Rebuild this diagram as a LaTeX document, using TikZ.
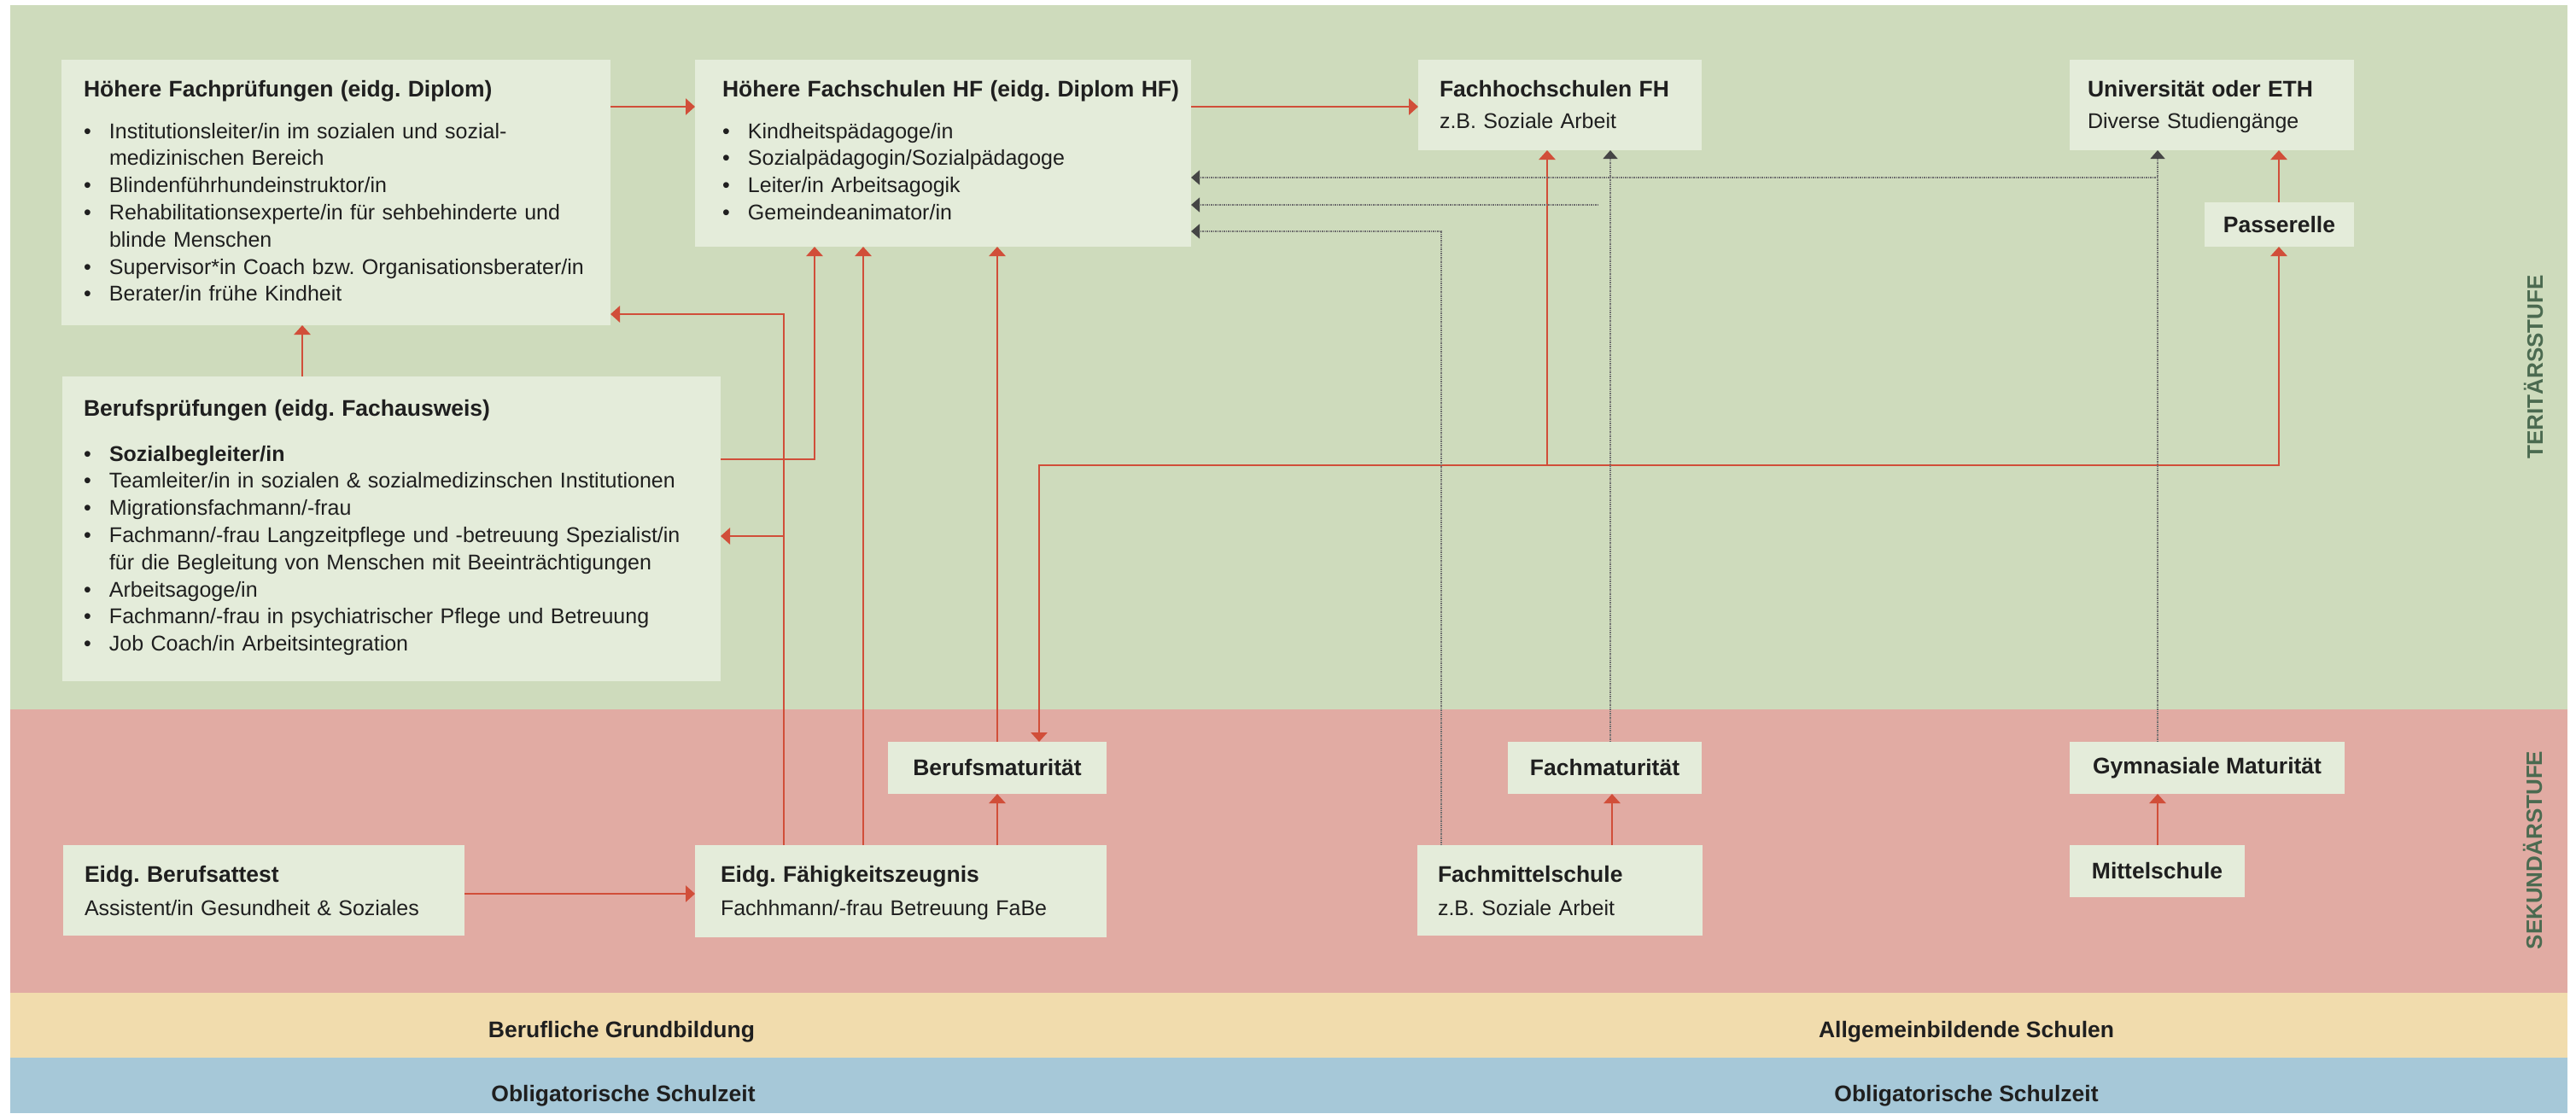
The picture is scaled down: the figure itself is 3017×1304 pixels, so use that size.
\documentclass[tikz,border=0pt]{standalone}
\usepackage{fontspec}
\setmainfont{Liberation Sans}
\usetikzlibrary{arrows.meta}
\frenchspacing
\definecolor{bggreen}{HTML}{CEDBBC}
\definecolor{boxfill}{HTML}{E4ECDA}
\definecolor{bgred}{HTML}{E1ABA3}
\definecolor{bgyellow}{HTML}{F1DCAD}
\definecolor{bgblue}{HTML}{A6C8D8}
\definecolor{arrred}{HTML}{D14E39}
\definecolor{dotgray}{HTML}{6E6E6E}
\definecolor{headgray}{HTML}{454545}
\definecolor{txt}{HTML}{1F1F1F}
\definecolor{stagegreen}{HTML}{4B6A50}
\newcommand{\bodyfnt}{\fontsize{25}{31.8}\selectfont}
\newcommand{\ttlfnt}{\fontsize{26.5}{32}\selectfont\bfseries}
\newcommand{\stagefnt}{\fontsize{26}{30}\selectfont\bfseries}
\newcommand{\bulitem}{\makebox[30pt][l]{•}}
\newcommand{\hangin}{\hspace*{30pt}}
\begin{document}
\begin{tikzpicture}[x=1pt,y=-1pt,
  box/.style={fill=boxfill, draw=none, inner sep=0pt, outer sep=0pt, anchor=north west},
  cbox/.style={box, font=\ttlfnt, text=txt},
  txtblock/.style={anchor=base west, text width=900pt, align=left, inner sep=0pt, outer sep=0pt, font=\bodyfnt, text=txt},
  ctitle/.style={font=\ttlfnt, text=txt, inner sep=0pt},
  stagelabel/.style={rotate=90, font=\stagefnt, text=stagegreen, inner sep=0pt},
  redline/.style={draw=arrred, line width=2.8pt, line join=miter},
  redarr/.style={redline, -{Triangle[width=19pt,length=11pt]}},
  grayline/.style={draw=dotgray, line width=1.5pt, densely dotted},
  grayarr/.style={grayline, -{Triangle[width=17pt,length=10pt,color=headgray,fill=headgray]}},
]
\useasboundingbox (0,0) rectangle (3017,1304);
\fill[white] (0,0) rectangle (3017,1304);
\fill[bggreen] (12,6) rectangle (3007,831);
\fill[bgred] (12,831) rectangle (3007,1163);
\fill[bgyellow] (12,1163) rectangle (3007,1239);
\fill[bgblue] (12,1239) rectangle (3007,1304);

% boxes
\node[box, minimum width=643pt, minimum height=311pt] (hfp) at (72,70) {};
\node[box, minimum width=771pt, minimum height=357pt] (bp) at (73,441) {};
\node[box, minimum width=581pt, minimum height=219pt] (hf) at (814,70) {};
\node[box, minimum width=332pt, minimum height=106pt] (fh) at (1661,70) {};
\node[box, minimum width=333pt, minimum height=106pt] (uni) at (2424,70) {};
\node[cbox, minimum width=175pt, minimum height=52pt] (pass) at (2582,237) {Passerelle};
\node[cbox, minimum width=256pt, minimum height=61pt] (bm) at (1040,869) {Berufsmaturität};
\node[cbox, minimum width=227pt, minimum height=61pt] (fm) at (1766,869) {Fachmaturität};
\node[cbox, minimum width=322pt, minimum height=61pt] (gm) at (2424,869) {Gymnasiale Maturität};
\node[box, minimum width=470pt, minimum height=106pt] (eba) at (74,990) {};
\node[box, minimum width=482pt, minimum height=108pt] (efz) at (814,990) {};
\node[box, minimum width=334pt, minimum height=106pt] (fms) at (1660,990) {};
\node[cbox, minimum width=205pt, minimum height=61pt] (ms) at (2424,990) {Mittelschule};

% texts in boxes
\node[txtblock] (hfp-t) at (98,113) {{\ttlfnt Höhere Fachprüfungen (eidg. Diplom)\par}\vspace{17.2pt}
\bulitem Institutionsleiter/in im sozialen und sozial-\\
\hangin medizinischen Bereich\\
\bulitem Blindenführhundeinstruktor/in\\
\bulitem Rehabilitationsexperte/in für sehbehinderte und\\
\hangin blinde Menschen\\
\bulitem Supervisor*in Coach bzw. Organisationsberater/in\\
\bulitem Berater/in frühe Kindheit};

\node[txtblock] (bp-t) at (98,487) {{\ttlfnt Berufsprüfungen (eidg. Fachausweis)\par}\vspace{21.2pt}
\bulitem\textbf{Sozialbegleiter/in}\\
\bulitem Teamleiter/in in sozialen \& sozialmedizinschen Institutionen\\
\bulitem Migrationsfachmann/-frau\\
\bulitem Fachmann/-frau Langzeitpflege und -betreuung Spezialist/in\\
\hangin für die Begleitung von Menschen mit Beeinträchtigungen\\
\bulitem Arbeitsagoge/in\\
\bulitem Fachmann/-frau in psychiatrischer Pflege und Betreuung\\
\bulitem Job Coach/in Arbeitsintegration};

\node[txtblock] (hf-t) at (846,113) {{\ttlfnt Höhere Fachschulen HF (eidg. Diplom HF)\par}\vspace{17.2pt}
\bulitem Kindheitspädagoge/in\\
\bulitem Sozialpädagogin/Sozialpädagoge\\
\bulitem Leiter/in Arbeitsagogik\\
\bulitem Gemeindeanimator/in};

\node[txtblock] (fh-t) at (1686,113) {{\ttlfnt Fachhochschulen FH\par}\vspace{5.2pt}
z.B. Soziale Arbeit};
\node[txtblock] (uni-t) at (2445,113) {{\ttlfnt Universität oder ETH\par}\vspace{5.2pt}
Diverse Studiengänge};
\node[txtblock] (eba-t) at (99,1033) {{\ttlfnt Eidg. Berufsattest\par}\vspace{7.2pt}
Assistent/in Gesundheit \& Soziales};
\node[txtblock] (efz-t) at (844,1033) {{\ttlfnt Eidg. Fähigkeitszeugnis\par}\vspace{7.2pt}
Fachhmann/-frau Betreuung FaBe};
\node[txtblock] (fms-t) at (1684,1033) {{\ttlfnt Fachmittelschule\par}\vspace{7.2pt}
z.B. Soziale Arbeit};

% band labels
\node[ctitle, anchor=base] (bot1) at (728,1215) {Berufliche Grundbildung};
\node[ctitle, anchor=base] (bot2) at (730,1290) {Obligatorische Schulzeit};
\node[ctitle, anchor=base] (bot3) at (2303,1215) {Allgemeinbildende Schulen};
\node[ctitle, anchor=base] (bot4) at (2303,1290) {Obligatorische Schulzeit};
\node[stagelabel] (lab1) at (2967,430) {TERITÄRSSTUFE};
\node[stagelabel] (lab2) at (2966,996) {SEKUNDÄRSTUFE};

% red connectors
\draw[redarr] (hfp.east |- 0,125) -- (hf.west |- 0,125);
\draw[redarr] (hf.east |- 0,125) -- (fh.west |- 0,125);
\draw[redarr] (bp.north -| 354,0) -- (hfp.south -| 354,0);
\coordinate (j1) at (918,368);
\coordinate (j2) at (918,628);
\draw[redarr] (efz.north -| j1) -- (j1) -- (hfp.east |- j1);
\draw[redarr] (j2) -- (bp.east |- j2);
\coordinate (j3) at (954,538);
\draw[redarr] (bp.east |- j3) -- (j3) -- (hf.south -| j3);
\draw[redarr] (efz.north -| 1011,0) -- (hf.south -| 1011,0);
\draw[redarr] (efz.north -| 1168,0) -- (bm.south -| 1168,0);
\draw[redarr] (bm.north -| 1168,0) -- (hf.south -| 1168,0);
\coordinate (j4) at (1217,545);
\coordinate (j5) at (1812,545);
\coordinate (j6) at (2669,545);
\draw[redarr] (j6) -- (j4) -- (bm.north -| j4);
\draw[redarr] (j4) -- (j6) -- (pass.south -| j6);
\draw[redarr] (j5) -- (fh.south -| j5);
\draw[redarr] (pass.north -| j6) -- (uni.south -| j6);
\draw[redarr] (eba.east |- 0,1047) -- (efz.west |- 0,1047);
\draw[redarr] (fms.north -| 1888,0) -- (fm.south -| 1888,0);
\draw[redarr] (ms.north -| 2527,0) -- (gm.south -| 2527,0);

% gray connectors
\coordinate (g1) at (2527,208);
\draw[grayarr] (gm.north -| g1) -- (uni.south -| g1);
\draw[grayarr] (g1) -- (hf.east |- g1);
\draw[grayarr] (fm.north -| 1886,0) -- (fh.south -| 1886,0);
\coordinate (g2) at (1872,240);
\draw[grayarr] (g2) -- (hf.east |- g2);
\coordinate (g3) at (1688,271);
\draw[grayarr] (fms.north -| g3) -- (g3) -- (hf.east |- g3);
\end{tikzpicture}
\end{document}
